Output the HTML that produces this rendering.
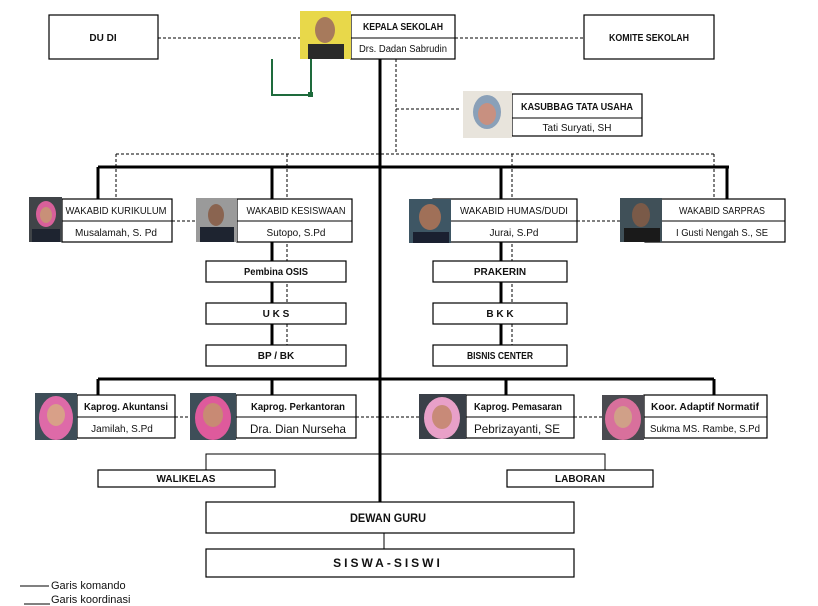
<!DOCTYPE html>
<html><head><meta charset="utf-8"><style>
html,body{margin:0;padding:0;background:#fff;}
svg{display:block;font-family:"Liberation Sans Narrow","Liberation Sans",sans-serif;}
text{font-size:10px;fill:#111;}
.b{font-weight:bold;}
</style></head><body>
<svg width="818" height="606" viewBox="0 0 818 606" xmlns="http://www.w3.org/2000/svg">
<g fill="none" stroke="#000">
<g stroke-dasharray="3,2" stroke-width="1">
<line x1="158" y1="38" x2="300" y2="38"/>
<line x1="455" y1="38" x2="584" y2="38"/>
<line x1="396" y1="59" x2="396" y2="154"/>
<line x1="396" y1="109" x2="460" y2="109"/>
<line x1="116" y1="154" x2="716" y2="154"/>
<line x1="116" y1="154" x2="116" y2="199"/>
<line x1="287" y1="154" x2="287" y2="366"/>
<line x1="512" y1="154" x2="512" y2="366"/>
<line x1="714" y1="154" x2="714" y2="199"/>
<line x1="172" y1="221" x2="196" y2="221"/>
<line x1="577" y1="221" x2="620" y2="221"/>
<line x1="175" y1="417" x2="192" y2="417"/>
<line x1="356" y1="417" x2="419" y2="417"/>
<line x1="574" y1="417" x2="603" y2="417"/>
</g>
<g stroke-width="3">
<line x1="380" y1="59" x2="380" y2="502"/>
<line x1="98" y1="167" x2="729" y2="167"/>
<line x1="98" y1="167" x2="98" y2="199"/>
<line x1="272" y1="167" x2="272" y2="366"/>
<line x1="501" y1="167" x2="501" y2="366"/>
<line x1="727" y1="167" x2="727" y2="199"/>
<line x1="98" y1="379" x2="714" y2="379"/>
<line x1="98" y1="379" x2="98" y2="395"/>
<line x1="272" y1="379" x2="272" y2="395"/>
<line x1="506" y1="379" x2="506" y2="395"/>
<line x1="714" y1="379" x2="714" y2="395"/>
</g>
<g stroke-width="1">
<polyline points="206,470 206,454 605,454 605,470"/>
<line x1="384" y1="533" x2="384" y2="549"/>
<line x1="20" y1="586" x2="49" y2="586"/>
<line x1="24" y1="604" x2="50" y2="604"/>
</g>
<polyline points="311,59 311,95 272,95 272,59" stroke="#1e6b3c" stroke-width="2"/>
</g>
<rect x="308" y="92" width="5" height="5" fill="#1e6b3c"/>

<g fill="#fff" stroke="#000" stroke-width="1.2">
<rect x="49" y="15" width="109" height="44"/>
<rect x="584" y="15" width="130" height="44"/>
<rect x="351" y="15" width="104" height="44"/>
<rect x="512" y="94" width="130" height="42"/>
<rect x="62" y="199" width="110" height="43"/>
<rect x="237" y="199" width="115" height="43"/>
<rect x="433" y="199" width="144" height="43"/>
<rect x="645" y="199" width="140" height="43"/>
<rect x="206" y="261" width="140" height="21"/>
<rect x="206" y="303" width="140" height="21"/>
<rect x="206" y="345" width="140" height="21"/>
<rect x="433" y="261" width="134" height="21"/>
<rect x="433" y="303" width="134" height="21"/>
<rect x="433" y="345" width="134" height="21"/>
<rect x="77" y="395" width="98" height="43"/>
<rect x="236" y="395" width="120" height="43"/>
<rect x="466" y="395" width="108" height="43"/>
<rect x="644" y="395" width="123" height="43"/>
<rect x="98" y="470" width="177" height="17"/>
<rect x="507" y="470" width="146" height="17"/>
<rect x="206" y="502" width="368" height="31"/>
<rect x="206" y="549" width="368" height="28"/>
</g>
<g stroke="#000" stroke-width="1">
<line x1="351" y1="38" x2="455" y2="38"/>
<line x1="512" y1="118" x2="642" y2="118"/>
<line x1="62" y1="221" x2="172" y2="221"/>
<line x1="237" y1="221" x2="352" y2="221"/>
<line x1="451" y1="221" x2="577" y2="221"/>
<line x1="662" y1="221" x2="785" y2="221"/>
<line x1="77" y1="417" x2="175" y2="417"/>
<line x1="236" y1="417" x2="356" y2="417"/>
<line x1="466" y1="417" x2="574" y2="417"/>
<line x1="644" y1="417" x2="767" y2="417"/>
</g>

<g>
<rect x="300" y="11" width="51" height="48" fill="#e8d84a"/>
<ellipse cx="325" cy="30" rx="10" ry="13" fill="#a77a5c"/><rect x="308" y="44" width="36" height="15" fill="#2a2a2a"/>
<rect x="463" y="91" width="49" height="47" fill="#e8e4dc"/>
<ellipse cx="487" cy="112" rx="14" ry="17" fill="#8aa0b8"/><ellipse cx="487" cy="114" rx="9" ry="11" fill="#c89080"/>
<rect x="29" y="197" width="33" height="45" fill="#404448"/>
<ellipse cx="46" cy="214" rx="10" ry="13" fill="#d8609a"/><ellipse cx="46" cy="215" rx="6" ry="8" fill="#c89078"/><rect x="32" y="229" width="28" height="13" fill="#1e2430"/>
<rect x="196" y="198" width="41" height="44" fill="#9a9a9a"/>
<ellipse cx="216" cy="215" rx="8" ry="11" fill="#8a6450"/><rect x="200" y="227" width="34" height="15" fill="#1e2430"/>
<rect x="409" y="199" width="42" height="44" fill="#3e5664"/>
<ellipse cx="430" cy="217" rx="11" ry="13" fill="#a07058"/><rect x="413" y="232" width="36" height="11" fill="#1a2030"/>
<rect x="620" y="198" width="42" height="44" fill="#405058"/>
<ellipse cx="641" cy="215" rx="9" ry="12" fill="#7a5a48"/><rect x="624" y="228" width="36" height="14" fill="#1a1a1a"/>
<rect x="35" y="393" width="42" height="47" fill="#3e4e58"/>
<ellipse cx="56" cy="418" rx="17" ry="22" fill="#de6aa8"/><ellipse cx="56" cy="415" rx="9" ry="11" fill="#d8a088"/>
<rect x="190" y="393" width="46" height="47" fill="#3e4e58"/>
<ellipse cx="213" cy="418" rx="18" ry="22" fill="#de5a9c"/><ellipse cx="213" cy="415" rx="10" ry="12" fill="#c88a74"/>
<rect x="419" y="394" width="47" height="45" fill="#3a4048"/>
<ellipse cx="442" cy="418" rx="18" ry="21" fill="#e8a0c8"/><ellipse cx="442" cy="417" rx="10" ry="12" fill="#c88a78"/>
<rect x="602" y="395" width="42" height="45" fill="#4a4a50"/>
<ellipse cx="623" cy="419" rx="18" ry="21" fill="#d8709c"/><ellipse cx="623" cy="417" rx="9" ry="11" fill="#d0a088"/>
</g>

<g text-anchor="middle" lengthAdjust="spacingAndGlyphs">
<text x="103" y="41" class="b">DU DI</text>
<text x="649" y="41" class="b" textLength="80" lengthAdjust="spacingAndGlyphs">KOMITE SEKOLAH</text>
<text x="403" y="30" class="b" textLength="80" lengthAdjust="spacingAndGlyphs">KEPALA SEKOLAH</text>
<text x="403" y="52" textLength="88" lengthAdjust="spacingAndGlyphs">Drs. Dadan Sabrudin</text>
<text x="577" y="110" class="b" textLength="112" lengthAdjust="spacingAndGlyphs">KASUBBAG TATA USAHA</text>
<text x="577" y="131">Tati Suryati, SH</text>
<text x="116" y="214" textLength="101" lengthAdjust="spacingAndGlyphs">WAKABID KURIKULUM</text>
<text x="116" y="236" textLength="82" lengthAdjust="spacingAndGlyphs">Musalamah, S. Pd</text>
<text x="296" y="214" textLength="99" lengthAdjust="spacingAndGlyphs">WAKABID KESISWAAN</text>
<text x="296" y="236">Sutopo, S.Pd</text>
<text x="514" y="214" textLength="108" lengthAdjust="spacingAndGlyphs">WAKABID HUMAS/DUDI</text>
<text x="514" y="236">Jurai, S.Pd</text>
<text x="722" y="214" textLength="86" lengthAdjust="spacingAndGlyphs">WAKABID SARPRAS</text>
<text x="722" y="236" textLength="92" lengthAdjust="spacingAndGlyphs">I Gusti Nengah S., SE</text>
<text x="276" y="275" class="b" textLength="64" lengthAdjust="spacingAndGlyphs">Pembina OSIS</text>
<text x="276" y="317" class="b">U K S</text>
<text x="276" y="359" class="b">BP / BK</text>
<text x="500" y="275" class="b">PRAKERIN</text>
<text x="500" y="317" class="b">B  K  K</text>
<text x="500" y="359" class="b" textLength="66" lengthAdjust="spacingAndGlyphs">BISNIS CENTER</text>
<text x="126" y="410" class="b" textLength="84" lengthAdjust="spacingAndGlyphs">Kaprog. Akuntansi</text>
<text x="122" y="432">Jamilah, S.Pd</text>
<text x="298" y="410" class="b" textLength="94" lengthAdjust="spacingAndGlyphs">Kaprog. Perkantoran</text>
<text x="298" y="433" style="font-size:12px" textLength="96" lengthAdjust="spacingAndGlyphs">Dra. Dian Nurseha</text>
<text x="518" y="410" class="b" textLength="88" lengthAdjust="spacingAndGlyphs">Kaprog. Pemasaran</text>
<text x="517" y="433" style="font-size:12px" textLength="86" lengthAdjust="spacingAndGlyphs">Pebrizayanti, SE</text>
<text x="705" y="410" class="b" textLength="108" lengthAdjust="spacingAndGlyphs">Koor. Adaptif Normatif</text>
<text x="705" y="432" textLength="110" lengthAdjust="spacingAndGlyphs">Sukma MS. Rambe, S.Pd</text>
<text x="186" y="482" class="b">WALIKELAS</text>
<text x="580" y="482" class="b">LABORAN</text>
<text x="388" y="522" class="b" style="font-size:12px" textLength="76" lengthAdjust="spacingAndGlyphs">DEWAN GURU</text>
<text x="388" y="567" class="b" style="font-size:12px;letter-spacing:3px">SISWA-SISWI</text>
</g>
<text x="51" y="589" style="font-size:11px">Garis komando</text>
<text x="51" y="603" style="font-size:11px">Garis koordinasi</text>
</svg>
</body></html>
